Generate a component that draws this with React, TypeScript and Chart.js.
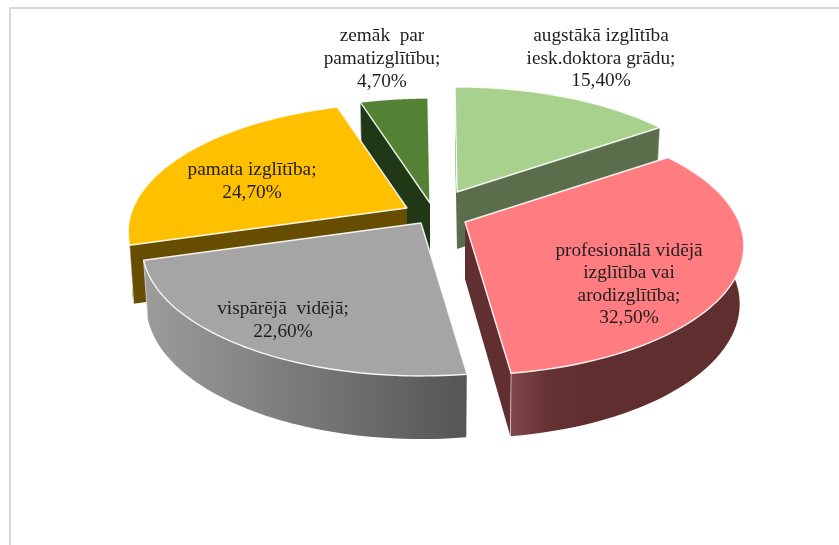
import React, { useEffect, useRef } from "react";
import { Chart, registerables } from "chart.js";

Chart.register(...registerables);

const categories = [
  "augstākā izglītība iesk.doktora grādu",
  "profesionālā vidējā izglītība vai arodizglītība",
  "vispārējā vidējā",
  "pamata izglītība",
  "zemāk par pamatizglītību",
];
const shares = [15.4, 32.5, 22.6, 24.7, 4.7];

const labelLines = [
  ["augstākā izglītība", "iesk.doktora grādu;"],
  ["profesionālā vidējā", "izglītība vai", "arodizglītība;"],
  ["vispārējā  vidējā;"],
  ["pamata izglītība;"],
  ["zemāk  par", "pamatizglītību;"],
];
const labelX = [601, 629, 283, 252, 382];
const labelTop = [36, 251, 309, 170, 36];
const labelStep = [22.5, 22.3, 22.5, 22.5, 23];

const topColors = ["#A9D18E", "#FF7C80", "#A5A5A5", "#FFC000", "#548235"];
const wallColors = ["#5B6E4B", "#622F31", "#5A5A5A", "#664D00", "#203815"];
const wallStops: string[][] = [
  ["#5B6E4B", "#5B6E4B"],
  ["#804649", "#673234", "#612E30", "#612E30"],
  ["#9C9C9C", "#555555"],
  ["#664D00", "#664D00"],
  ["#203815", "#203815"],
];

// how far each slice is pulled out of the pie
const explodeX = [22, 30, -14, -28, -5];
const explodeY = [-20, 10, 11, -4, -9];
const paintOrder = [0, 4, 3, 2, 1];

const FLATTEN = 0.4544;
const PERSPECTIVE = 0.186;
const DEPTH = 57;

const pie3d = {
  id: "pie3d",
  beforeDraw(chart: any) {
    const { ctx, width, height } = chart;
    ctx.save();
    ctx.fillStyle = "#ffffff";
    ctx.fillRect(0, 0, width, height);
    ctx.fillStyle = "#D9D9D9";
    ctx.fillRect(9, 7, width - 9, 2);
    ctx.fillRect(9, 7, 2, height - 7);
    ctx.restore();
  },
  beforeDatasetsDraw(chart: any) {
    const { ctx } = chart;
    const arcs = chart.getDatasetMeta(0).data;
    const vec = (phi: number, R: number) => {
      const u = Math.cos(phi);
      const v = Math.sin(phi);
      const w = 1 - PERSPECTIVE * v;
      return { x: (R * u) / w, y: (R * FLATTEN * v) / w };
    };
    ctx.save();
    for (const i of paintOrder) {
      const el = arcs[i];
      const ax = el.x + explodeX[i];
      const ay = el.y + explodeY[i];
      const steps = 60;
      const top: { x: number; y: number }[] = [];
      const bottom: { x: number; y: number }[] = [];
      for (let s = 0; s <= steps; s++) {
        const phi = el.startAngle + ((el.endAngle - el.startAngle) * s) / steps;
        const p = vec(phi, el.outerRadius);
        top.push({ x: ax + p.x, y: ay + p.y });
        bottom.push({ x: ax + p.x * 0.985, y: ay + DEPTH + p.y * 1.04 });
      }
      const first = 0;
      const last = steps;
      // radial walls
      ctx.fillStyle = wallColors[i];
      for (const k of [first, last]) {
        ctx.beginPath();
        ctx.moveTo(ax, ay);
        ctx.lineTo(top[k].x, top[k].y);
        ctx.lineTo(bottom[k].x, bottom[k].y);
        ctx.lineTo(ax, ay + DEPTH);
        ctx.closePath();
        ctx.fill();
      }
      // outer wall
      const xs = top.map((p) => p.x);
      const minX = Math.min(...xs);
      const maxX = Math.max(...xs);
      const grad = ctx.createLinearGradient(minX, 0, i === 1 ? minX + 110 : maxX, 0);
      const stops = wallStops[i];
      stops.forEach((c, n) => grad.addColorStop(n / (stops.length - 1), c));
      ctx.fillStyle = grad;
      ctx.beginPath();
      top.forEach((p, n) => (n ? ctx.lineTo(p.x, p.y) : ctx.moveTo(p.x, p.y)));
      for (let n = bottom.length - 1; n >= 0; n--) ctx.lineTo(bottom[n].x, bottom[n].y);
      ctx.closePath();
      ctx.fill();
      // wall corner highlights
      ctx.strokeStyle = "rgba(255,255,255,0.55)";
      ctx.lineWidth = 1;
      for (const k of [first, last]) {
        ctx.beginPath();
        ctx.moveTo(top[k].x, top[k].y);
        ctx.lineTo(bottom[k].x, bottom[k].y);
        ctx.stroke();
      }
      // top face
      ctx.beginPath();
      ctx.moveTo(ax, ay);
      top.forEach((p) => ctx.lineTo(p.x, p.y));
      ctx.closePath();
      ctx.fillStyle = topColors[i];
      ctx.fill();
      ctx.strokeStyle = "rgba(255,255,255,0.9)";
      ctx.lineWidth = 1.4;
      ctx.lineJoin = "round";
      ctx.stroke();
    }
    // data labels
    ctx.font = '19.3px "Liberation Serif"';
    ctx.fillStyle = "#1E1E1E";
    ctx.textAlign = "center";
    ctx.textBaseline = "middle";
    shares.forEach((value, i) => {
      const lines = [...labelLines[i], value.toFixed(2).replace(".", ",") + "%"];
      lines.forEach((line, n) => {
        ctx.fillText(line, labelX[i], labelTop[i] + n * labelStep[i]);
      });
    });
    ctx.restore();
    return false;
  },
};

export default function App() {
  const ref = useRef<HTMLCanvasElement>(null);
  useEffect(() => {
    document.body.style.margin = "0";
    const chart = new Chart(ref.current as HTMLCanvasElement, {
      type: "pie",
      data: {
        labels: categories,
        datasets: [{ data: shares, backgroundColor: topColors, borderWidth: 0 }],
      },
      options: {
        responsive: false,
        animation: false,
        rotation: -0.5,
        radius: 274,
        layout: { padding: { left: 31, bottom: 121 } },
        plugins: { legend: { display: false }, tooltip: { enabled: false }, title: { display: false } },
      },
      plugins: [pie3d],
    } as any);
    return () => chart.destroy();
  }, []);
  return <canvas ref={ref} width={839} height={545} style={{ display: "block" }} />;
}
